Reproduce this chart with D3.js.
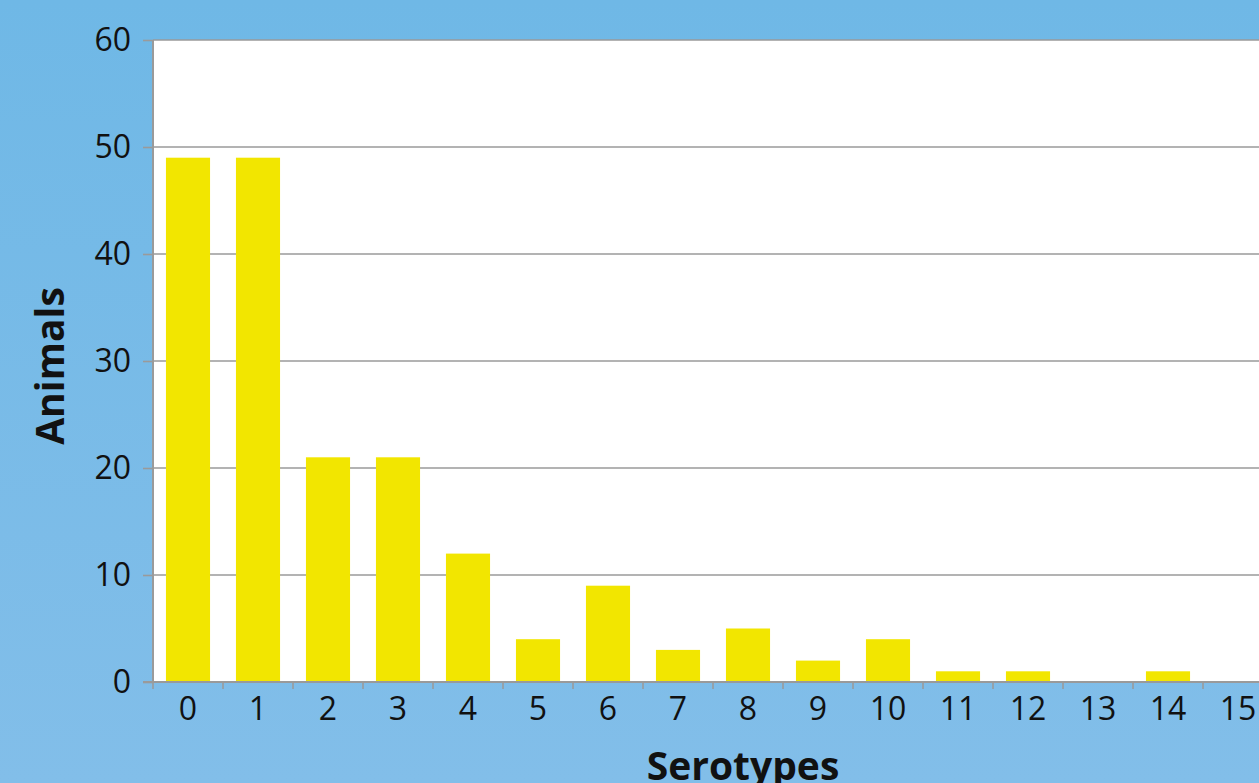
<!DOCTYPE html>
<html><head><meta charset="utf-8">
<script src="https://cdn.jsdelivr.net/npm/d3@7"></script>
<style>html,body{margin:0;padding:0;overflow:hidden;}svg{display:block;}</style>
</head><body>
<svg id="c" width="1259" height="783"></svg>
<script>
const categories = ["0","1","2","3","4","5","6","7","8","9","10","11","12","13","14","15"];
const animals = [49,49,21,21,12,4,9,3,5,2,4,1,1,0,1,0];
const yTicks = [0,10,20,30,40,50,60];

(function(){
const svg = d3.select("#c");
const W = 1259, H = 783;
const defs = svg.append("defs");
const g = defs.append("linearGradient").attr("id","bg").attr("x1",0).attr("y1",0).attr("x2",0).attr("y2",1);
g.append("stop").attr("offset","0%").attr("stop-color","#6fb8e6");
g.append("stop").attr("offset","100%").attr("stop-color","#82bee9");
svg.append("rect").attr("width",W).attr("height",H).attr("fill","url(#bg)");

const pLeft = 153, pTop = 40, pBottom = 682;
const band = 70;
const x = d3.scaleBand().domain(categories).range([pLeft, pLeft + band*categories.length]).paddingInner(0.37).paddingOuter(0.185);
const y = d3.scaleLinear().domain([0,60]).range([pBottom, pTop]);

svg.append("rect").attr("x",pLeft).attr("y",pTop).attr("width",W-pLeft).attr("height",pBottom-pTop).attr("fill","#ffffff");

const font = "'Open Sans', sans-serif";
svg.append("g").selectAll("line").data(yTicks.filter(d=>d>0)).join("line")
  .attr("x1",pLeft).attr("x2",W).attr("y1",d=>y(d)).attr("y2",d=>y(d))
  .attr("stroke","#9a9a9a").attr("stroke-width",1.6);

svg.append("g").selectAll("rect").data(categories).join("rect")
  .attr("x",d=>x(d)).attr("width",x.bandwidth())
  .attr("y",(d,i)=>y(animals[i])).attr("height",(d,i)=>pBottom-y(animals[i]))
  .attr("fill","#f2e600");

const ya = svg.append("g").attr("transform",`translate(${pLeft},0)`)
  .call(d3.axisLeft(y).tickValues(yTicks).tickSize(10).tickPadding(12).tickFormat(d3.format("d")));
ya.select(".domain").attr("stroke","#9a9a9a").attr("stroke-width",2).attr("d",`M0,${pTop}V${pBottom}`);
ya.selectAll(".tick line").attr("stroke","#9a9a9a").attr("stroke-width",1.6);
ya.selectAll(".tick text").attr("font-family",font).attr("font-size",32).attr("fill","#111");

const xa = svg.append("g").attr("transform",`translate(0,${pBottom})`)
  .call(d3.axisBottom(x).tickSize(0).tickPadding(15));
xa.select(".domain").remove();
xa.append("line").attr("x1",pLeft-10).attr("x2",W).attr("y1",0).attr("y2",0).attr("stroke","#9a9a9a").attr("stroke-width",2);
xa.selectAll(".tick text").attr("font-family",font).attr("font-size",32).attr("fill","#111");
xa.append("g").selectAll("line").data(d3.range(categories.length+1)).join("line")
  .attr("x1",i=>pLeft+i*band).attr("x2",i=>pLeft+i*band).attr("y1",0).attr("y2",7)
  .attr("stroke","#9a9a9a").attr("stroke-width",1.6);

svg.append("text").attr("x",743).attr("y",780).attr("text-anchor","middle")
  .attr("font-family",font).attr("font-weight","bold").attr("font-size",39).attr("fill","#111").text("Serotypes");
svg.append("text").attr("transform","translate(64,366) rotate(-90)").attr("text-anchor","middle")
  .attr("font-family",font).attr("font-weight","bold").attr("font-size",39).attr("fill","#111").text("Animals");
})();
</script>
</body></html>
